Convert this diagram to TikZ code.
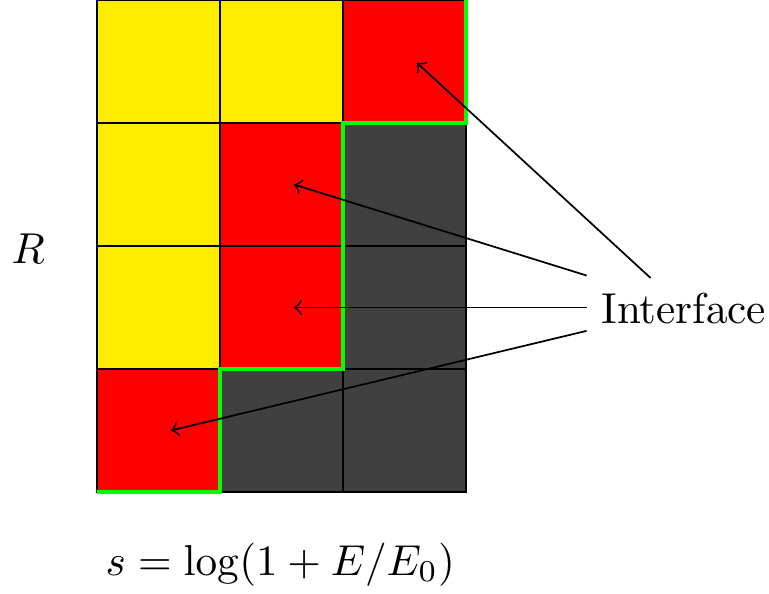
\documentclass[tikz,border=0pt]{standalone}
\begin{document}
\begin{tikzpicture}
\definecolor{cyel}{RGB}{255,237,0}
\definecolor{cred}{RGB}{255,0,0}
\definecolor{cgray}{RGB}{64,64,64}
\definecolor{cgreen}{RGB}{0,255,0}
\tikzset{
  cell/.style={draw=black, line width=0.4pt},
  iface/.style={draw=cgreen, line width=0.9pt},
  ptr/.style={->, line width=0.4pt}
}
\useasboundingbox (-0.789,-0.821) rectangle (5.463,4.0);
% row 3 (top)
\filldraw[cell, fill=cyel] (0,3) rectangle (1,4);
\filldraw[cell, fill=cyel] (1,3) rectangle (2,4);
\filldraw[cell, fill=cred] (2,3) rectangle (3,4);
% row 2
\filldraw[cell, fill=cyel] (0,2) rectangle (1,3);
\filldraw[cell, fill=cred] (1,2) rectangle (2,3);
\filldraw[cell, fill=cgray] (2,2) rectangle (3,3);
% row 1
\filldraw[cell, fill=cyel] (0,1) rectangle (1,2);
\filldraw[cell, fill=cred] (1,1) rectangle (2,2);
\filldraw[cell, fill=cgray] (2,1) rectangle (3,2);
% row 0
\filldraw[cell, fill=cred] (0,0) rectangle (1,1);
\filldraw[cell, fill=cgray] (1,0) rectangle (2,1);
\filldraw[cell, fill=cgray] (2,0) rectangle (3,1);
% interface line
\draw[iface] (0,0) -- (1,0) -- (1,1) -- (2,1) -- (2,3) -- (3,3) -- (3,4);
% labels
\node (R) at (-0.56,1.98) {$R$};
\node (s) at (1.49,-0.59) {$s=\log(1+E/E_0)$};
\node[inner sep=0pt] (I) at (4.77,1.49) {Interface};
% targets
\coordinate (t1) at (2.6,3.49);
\coordinate (t2) at (1.6,2.5);
\coordinate (t3) at (1.6,1.5);
\coordinate (t4) at (0.6,0.5);
\coordinate (s1) at (4.5,1.74);
\coordinate (s2) at (3.98,1.76);
\coordinate (s3) at (3.98,1.5);
\coordinate (s4) at (3.98,1.31);
\draw[ptr] (s1) -- (t1);
\draw[ptr] (s2) -- (t2);
\draw[ptr] (s3) -- (t3);
\draw[ptr] (s4) -- (t4);
\end{tikzpicture}
\end{document}
